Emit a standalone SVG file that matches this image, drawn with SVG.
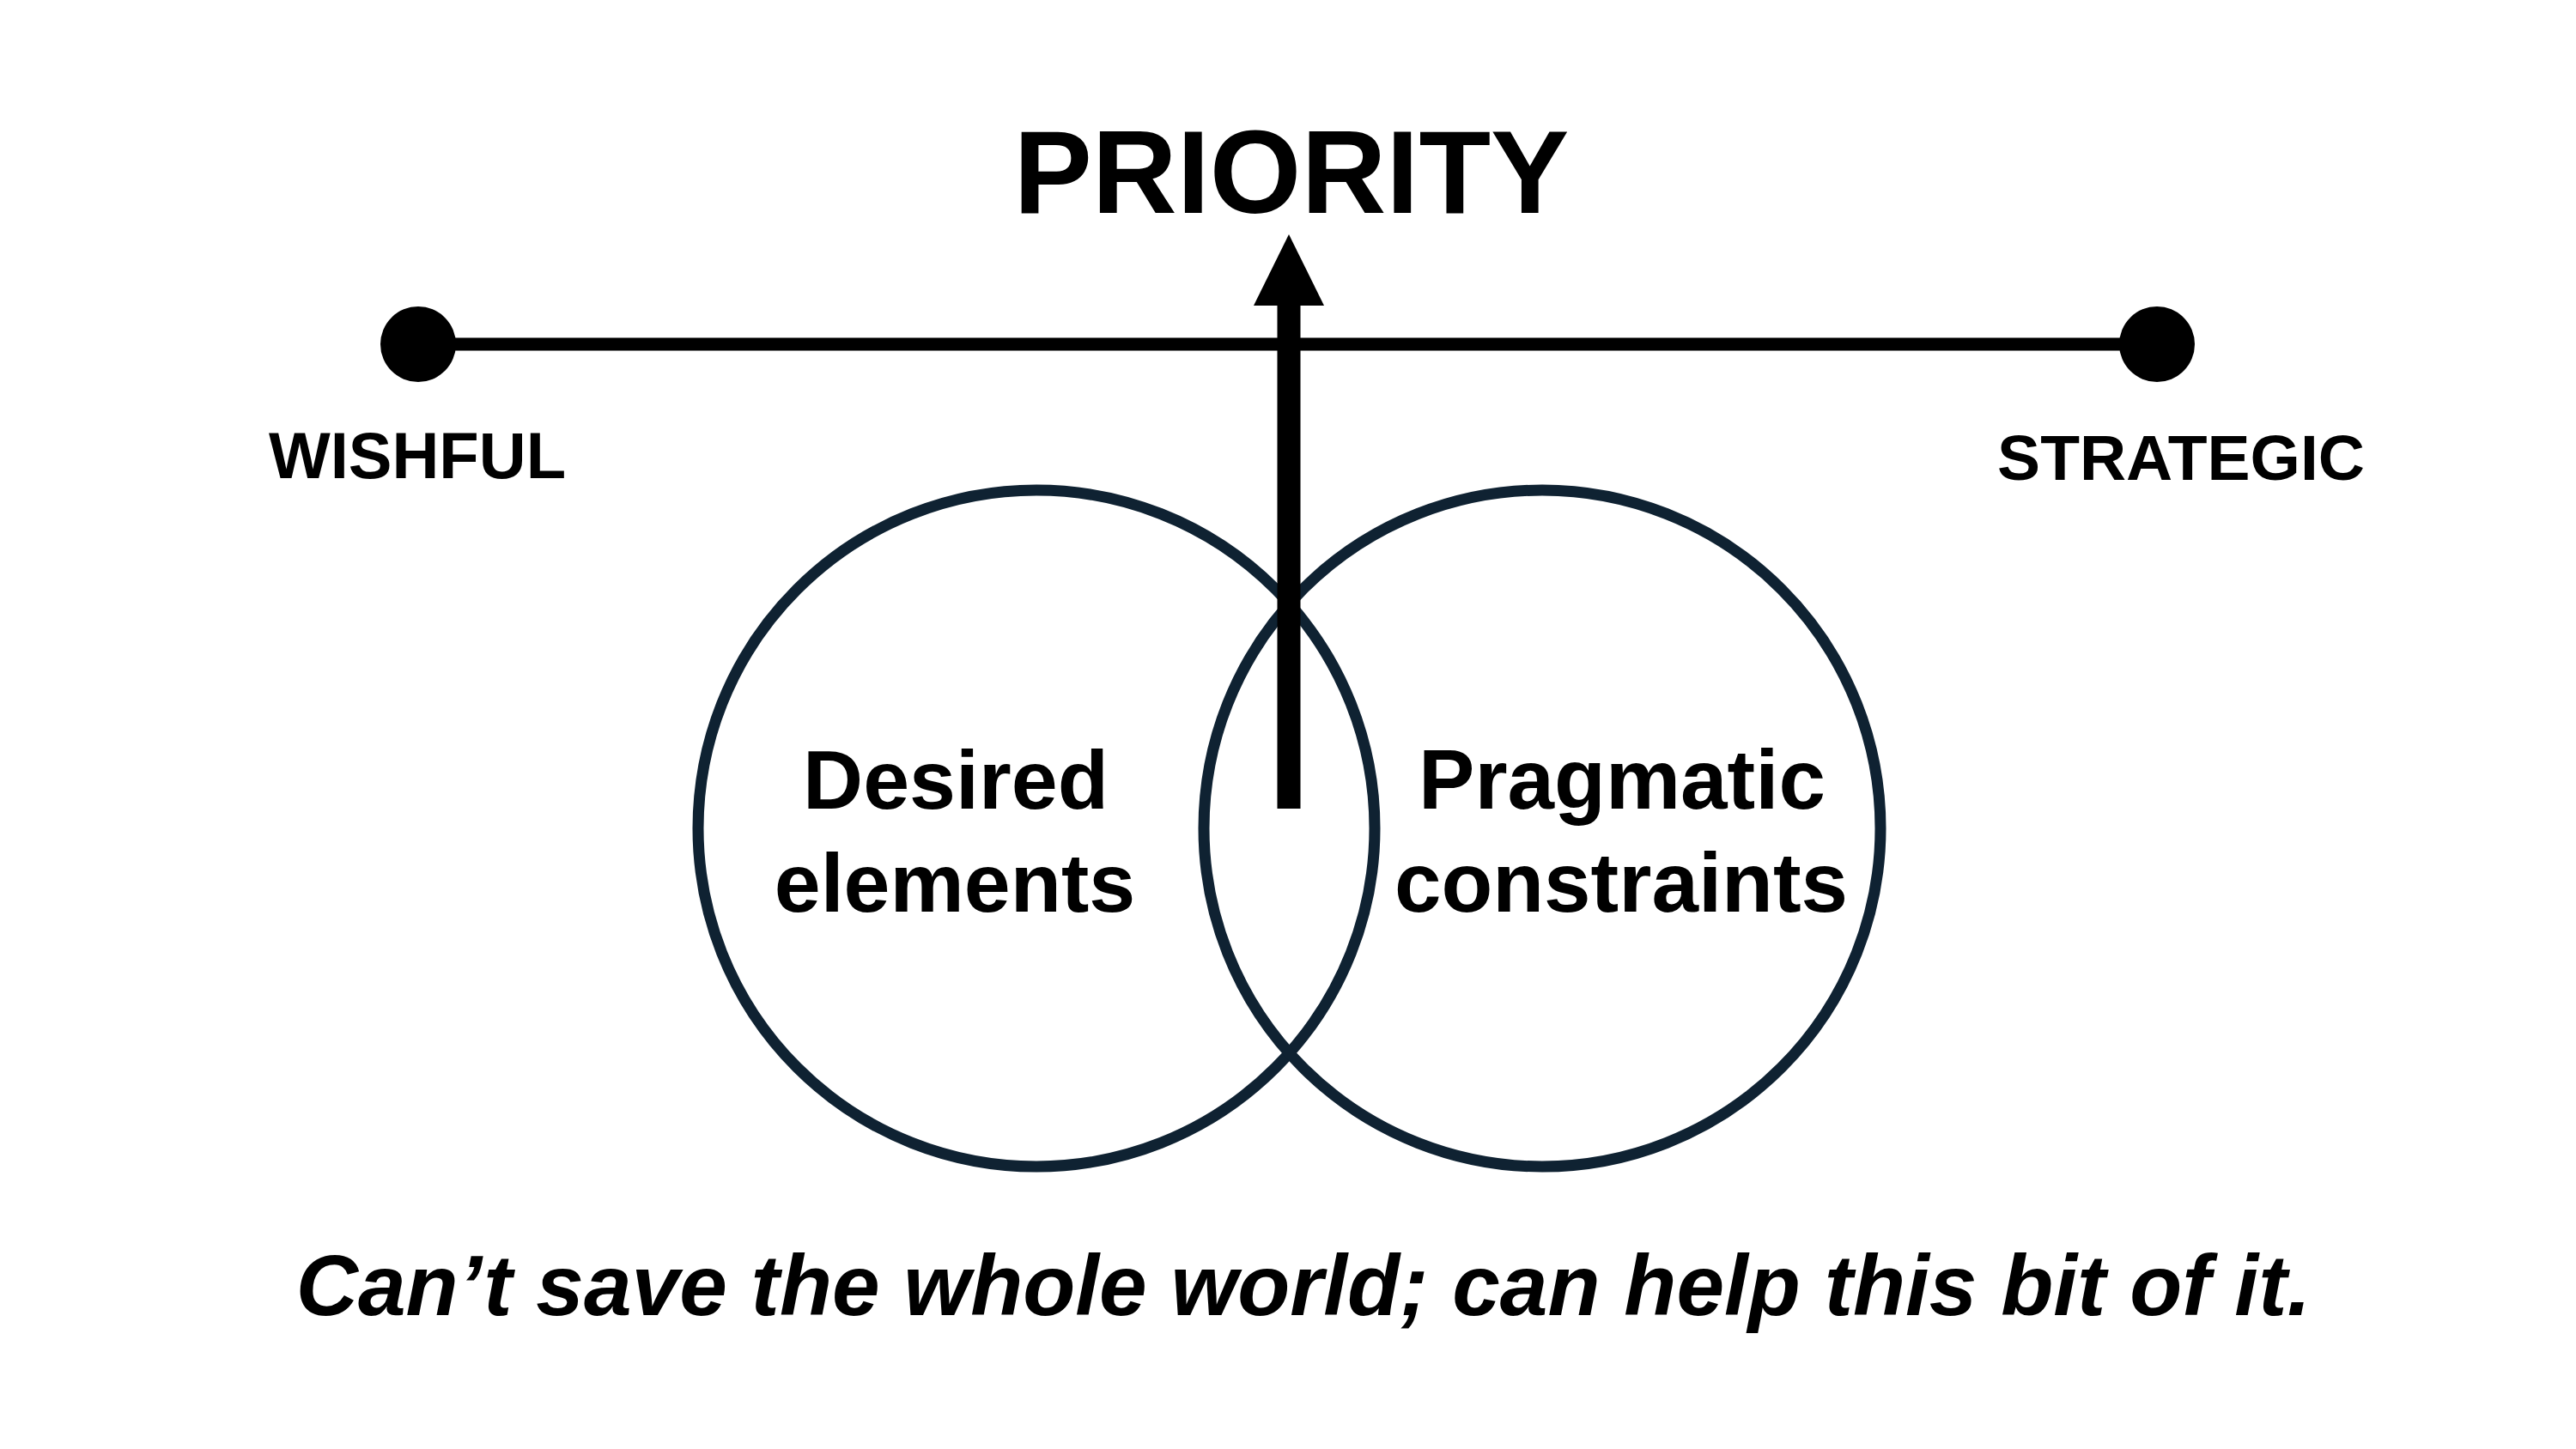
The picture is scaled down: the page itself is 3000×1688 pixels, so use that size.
<svg xmlns="http://www.w3.org/2000/svg" width="3000" height="1688" viewBox="0 0 3000 1688">
<style>
.t{font-family:"Liberation Sans",Arial,Helvetica,sans-serif;font-weight:bold;fill:#000;text-anchor:middle}
.c{fill:none;stroke:#0f2232;stroke-width:13}
</style>
<rect width="3000" height="1688" fill="#fff"/>
<g id="title"><text class="t" x="1504" y="248" font-size="137">PRIORITY</text></g>
<g id="venn-left"><circle class="c" cx="1207" cy="965" r="394"/><text class="t" x="1113" y="942" font-size="97">Desired</text><text class="t" x="1112" y="1062" font-size="97">elements</text></g>
<g id="venn-right"><circle class="c" cx="1796" cy="965" r="394"/><text class="t" x="1889" y="942" font-size="98">Pragmatic</text><text class="t" x="1888" y="1062" font-size="98">constraints</text></g>
<g id="wishful"><circle cx="487" cy="401" r="44" fill="#000"/><text class="t" x="486" y="557" font-size="76">WISHFUL</text></g>
<g id="strategic"><circle cx="2512" cy="401" r="44" fill="#000"/><text class="t" x="2540" y="559" font-size="75">STRATEGIC</text></g>
<g id="connectors">
<line x1="487" y1="401" x2="2512" y2="401" stroke="#000" stroke-width="15"/>
<line x1="1501" y1="352" x2="1501" y2="942" stroke="#000" stroke-width="27"/>
<polygon points="1501,273 1460,356 1542,356" fill="#000"/>
</g>
<g id="caption"><text class="t" x="1518" y="1532" font-size="100" font-style="italic">Can’t save the whole world; can help this bit of it.</text></g>
</svg>
